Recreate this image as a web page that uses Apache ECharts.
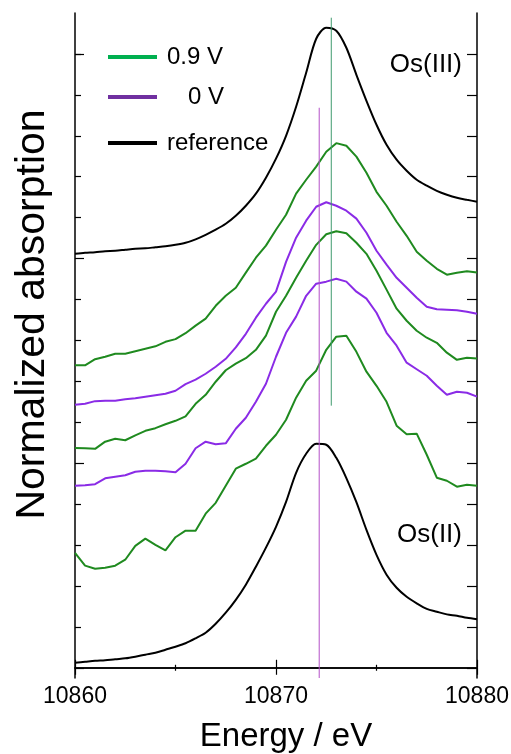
<!DOCTYPE html>
<html>
<head>
<meta charset="utf-8">
<script src="https://cdn.jsdelivr.net/npm/echarts@6/dist/echarts.min.js"></script>
<style>
html,body{margin:0;padding:0;background:#fff;}
#chart{width:511px;height:754px;}
</style>
</head>
<body>
<div id="chart"></div>
<script>
// Energy grid (eV)
const energy = [10860,10860.5,10861,10861.5,10862,10862.5,10863,10863.5,10864,10864.5,
  10865,10865.5,10866,10866.5,10867,10867.5,10868,10868.5,10869,10869.5,
  10870,10870.5,10871,10871.5,10872,10872.5,10873,10873.5,10874,10874.5,
  10875,10875.5,10876,10876.5,10877,10877.5,10878,10878.5,10879,10879.5,10880];

// Os(III) reference (offset stacked)
const osIII = [2.023,2.028,2.031,2.036,2.038,2.043,2.048,2.050,2.055,2.060,
  2.067,2.077,2.094,2.116,2.141,2.170,2.209,2.258,2.317,2.395,
  2.488,2.600,2.742,2.908,3.074,3.128,3.113,3.030,2.898,2.771,
  2.654,2.556,2.483,2.429,2.385,2.356,2.331,2.312,2.297,2.287,2.278];

// 0.9 V (top)
const v09a = [1.478,1.478,1.508,1.520,1.535,1.535,1.547,1.559,1.571,1.593,
  1.606,1.635,1.672,1.706,1.769,1.818,1.857,1.931,2.004,2.063,
  2.141,2.214,2.317,2.385,2.449,2.522,2.564,2.551,2.498,2.419,
  2.326,2.258,2.180,2.111,2.033,1.989,1.950,1.921,1.931,1.938,1.932];

// 0 V (top)
const v0a = [1.285,1.290,1.303,1.305,1.305,1.312,1.317,1.325,1.332,1.339,
  1.354,1.386,1.408,1.437,1.471,1.510,1.566,1.632,1.711,1.779,
  1.838,1.984,2.102,2.185,2.253,2.275,2.258,2.234,2.195,2.126,
  2.038,1.970,1.906,1.857,1.808,1.764,1.752,1.750,1.747,1.740,1.730];

// 0.9 V (middle)
const v09b = [1.074,1.073,1.070,1.105,1.119,1.112,1.136,1.158,1.171,1.190,
  1.207,1.229,1.290,1.334,1.398,1.454,1.486,1.513,1.554,1.623,
  1.740,1.818,1.906,1.989,2.067,2.119,2.133,2.124,2.077,2.023,
  1.940,1.848,1.755,1.696,1.647,1.613,1.588,1.540,1.505,1.515,1.512];

// 0 V (bottom)
const v0b = [0.890,0.892,0.897,0.926,0.934,0.941,0.958,0.963,0.963,0.960,
  0.956,0.997,1.073,1.105,1.092,1.097,1.168,1.222,1.300,1.388,
  1.520,1.637,1.716,1.818,1.877,1.887,1.901,1.887,1.838,1.804,
  1.735,1.637,1.574,1.491,1.459,1.427,1.378,1.334,1.349,1.344,1.325];

// 0.9 V (bottom)
const v09c = [0.562,0.499,0.484,0.489,0.499,0.528,0.596,0.631,0.601,0.574,
  0.638,0.670,0.670,0.753,0.806,0.890,0.973,0.997,1.022,1.085,
  1.139,1.212,1.320,1.403,1.452,1.554,1.618,1.623,1.544,1.447,
  1.378,1.300,1.183,1.141,1.144,1.041,0.929,0.914,0.885,0.894,0.890];

// Os(II) reference
const osII = [0.024,0.029,0.034,0.037,0.042,0.046,0.054,0.064,0.073,0.088,
  0.103,0.120,0.144,0.171,0.215,0.269,0.332,0.406,0.494,0.587,
  0.689,0.811,0.953,1.046,1.095,1.090,1.026,0.927,0.809,0.674,
  0.552,0.455,0.391,0.347,0.315,0.288,0.274,0.261,0.254,0.244,0.237];

// Vertical marker lines: [energy, yTop, yBottom]
const markerII = [10872.15, 2.737, -0.05];
const markerIII = [10872.75, 3.177, 1.281];

// Axis settings
const xMin = 10860, xMax = 10880, xLabels = [10860, 10870, 10880];
const yMin = -0.05, yMax = 3.2;
const yMajorTicks = [0, 1, 2, 3];
const yMinorTicks = [0.2,0.4,0.6,0.8,1.2,1.4,1.6,1.8,2.2,2.4,2.6,2.8,3.0];
const yAllTicks = [0,0.2,0.4,0.6,0.8,1,1.2,1.4,1.6,1.8,2,2.2,2.4,2.6,2.8,3.0];

const FONT = '"Liberation Sans", Arial, Helvetica, sans-serif';
const GREEN = '#1f8a1f', PURPLE = '#8a2be6', BLACK = '#000000';

function pairs(ys){ return energy.map((e,i)=>[e, ys[i]]); }
function lineSeries(name, ys, color, smooth){
  return {type:'line', name:name, data:pairs(ys), showSymbol:false, symbol:'none', smooth:smooth || false,
    lineStyle:{color:color, width:2}, itemStyle:{color:color}, z:3, silent:true, animation:false};
}
function vline(name, m, color){
  return {type:'line', name:name, data:[[m[0], m[1]], [m[0], m[2]]], showSymbol:false, symbol:'none',
    lineStyle:{color:color, width:1}, z:4, silent:true, animation:false};
}

const chart = echarts.init(document.getElementById('chart'));
const baseY = {type:'value', min:yMin, max:yMax, splitLine:{show:false}, axisLabel:{show:false}};
const legendText = {fontFamily:FONT, fontSize:24, color:'#000'};
chart.setOption({
  animation:false,
  backgroundColor:'#fff',
  grid:{left:75, right:34, top:13, bottom:76, outerBoundsMode:'none', containLabel:false},
  legend:[
    {data:[{name:'0.9 V', icon:'rect', itemStyle:{color:'#00b050'}}], left:108, top:45, padding:0,
      itemWidth:49, itemHeight:4, textStyle:Object.assign({padding:[0,0,0,5]}, legendText), selectedMode:false},
    {data:[{name:'0 V', icon:'rect', itemStyle:{color:'#7030a0'}}], left:108, top:85, padding:0,
      itemWidth:49, itemHeight:4, textStyle:Object.assign({padding:[0,0,0,26]}, legendText), selectedMode:false},
    {data:[{name:'reference', icon:'rect', itemStyle:{color:'#000'}}], left:108, top:131, padding:0,
      itemWidth:49, itemHeight:4, textStyle:Object.assign({padding:[0,0,0,5]}, legendText), selectedMode:false}
  ],
  xAxis:[
    {type:'value', min:xMin, max:xMax, interval:10, position:'bottom',
      name:'Energy / eV', nameLocation:'middle', nameGap:42,
      nameTextStyle:{fontFamily:FONT, fontSize:33, color:'#000', padding:[0,0,0,20]},
      axisLine:{lineStyle:{color:'#000', width:1.5}},
      axisTick:{inside:true, length:8, lineStyle:{color:'#000', width:1.2}},
      minorTick:{show:true, splitNumber:2, length:3, lineStyle:{color:'#000', width:1.2}},
      axisLabel:{fontFamily:FONT, fontSize:23, color:'#000', margin:7,
        customValues:xLabels, formatter:v=>String(v)},
      splitLine:{show:false}},
    {type:'value', min:xMin, max:xMax, interval:10, position:'top',
      axisLine:{lineStyle:{color:'#000', width:1.5}},
      axisTick:{inside:true, length:7, lineStyle:{color:'#000', width:1.2}},
      minorTick:{show:true, splitNumber:2, length:3, lineStyle:{color:'#000', width:1.2}},
      axisLabel:{show:false}, splitLine:{show:false}}
  ],
  yAxis:[
    Object.assign({}, baseY, {position:'left',
      name:'Normalized absorption', nameLocation:'middle', nameGap:22,
      nameTextStyle:{fontFamily:FONT, fontSize:41, color:'#000', padding:[0,0,0,62]},
      axisLine:{show:true, lineStyle:{color:'#000', width:1.5}},
      axisTick:{show:true, inside:true, length:6, customValues:yMinorTicks, lineStyle:{color:'#000', width:1.2}}}),
    Object.assign({}, baseY, {position:'left',
      axisLine:{show:false},
      axisTick:{show:true, inside:true, length:9, customValues:yMajorTicks, lineStyle:{color:'#000', width:1.2}}}),
    Object.assign({}, baseY, {position:'right',
      axisLine:{show:true, lineStyle:{color:'#000', width:1.5}},
      axisTick:{show:true, inside:true, length:10, customValues:yAllTicks, lineStyle:{color:'#000', width:1.2}}})
  ],
  graphic:[
    {type:'text', right:49, top:52, style:{text:'Os(III)', font:'26px ' + FONT, fill:'#000'}},
    {type:'text', right:49, top:522, style:{text:'Os(II)', font:'26px ' + FONT, fill:'#000'}}
  ],
  series:[
    lineSeries('reference', osIII, BLACK, 0.3),
    lineSeries('0.9 V', v09a, GREEN),
    lineSeries('0 V', v0a, PURPLE),
    lineSeries('0.9 V', v09b, GREEN),
    lineSeries('0 V', v0b, PURPLE),
    lineSeries('0.9 V', v09c, GREEN),
    lineSeries('reference', osII, BLACK, 0.3),
    vline('Os(II) edge', markerII, '#b450c8'),
    vline('Os(III) edge', markerIII, '#3f9a6e')
  ]
});
</script>
</body>
</html>
